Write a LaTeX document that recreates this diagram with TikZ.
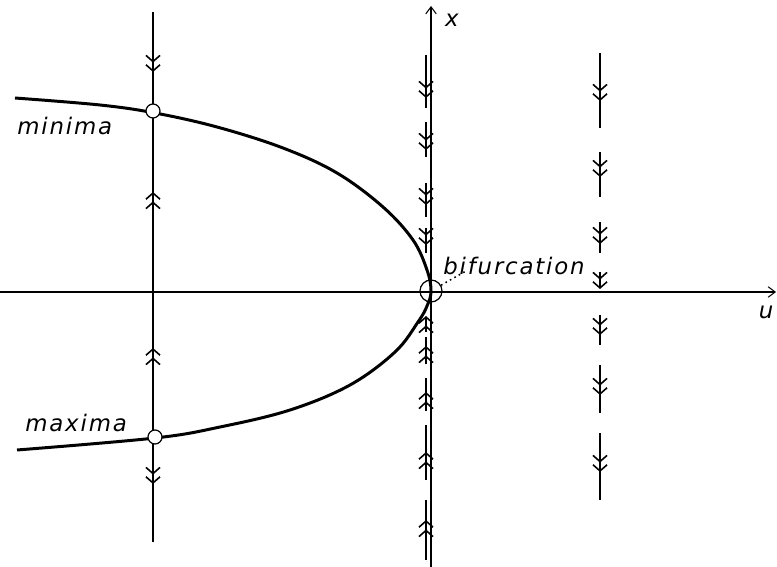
\documentclass[tikz,border=0pt]{standalone}
\usepackage{fontspec}
\usetikzlibrary{arrows.meta}
\newfontfamily\lblfont[LetterSpace=8]{DejaVu Sans}

\begin{document}
\begin{tikzpicture}[x=0.02cm,y=-0.02cm,
  axis/.style={line width=0.6pt},
  phase/.style={line width=0.8pt},
  dbl/.style={phase,-{Straight Barb[length=3.5pt,width=8pt,line width=0.9pt,sep=0.8pt]Straight Barb[length=3.5pt,width=8pt,line width=0.9pt]}},
  eq/.style={circle,draw,fill=white,line width=0.7pt,inner sep=0pt,minimum size=2.8mm},
  lbl/.style={font=\fontsize{13}{15}\lblfont\itshape,inner sep=0pt}]
\path[use as bounding box] (0,0) rectangle (777,567);
% axes
\coordinate (uL) at (0,292);
\coordinate (uR) at (776,292);
\coordinate (xB) at (431,567);
\coordinate (xT) at (431,6);
\draw[axis,-{Straight Barb[length=4pt,width=6pt]}] (uL) -- (uR);
\draw[axis,-{Straight Barb[length=4pt,width=6pt]}] (xB) -- (xT);
\node[lbl] (ulab) at (766,312) {u};
\node[lbl] (xlab) at (452,20) {x};
% phase line u<0
\coordinate (pT) at (153,12);
\coordinate (pB) at (153,542);
\draw[phase] (pT) -- (pB);
\draw[dbl] (153,52) -- (153,72);
\draw[dbl] (153,212) -- (153,192);
\draw[dbl] (153,368) -- (153,348);
\draw[dbl] (153,464) -- (153,484);
% equilibrium curve
\draw[line width=1.7pt] plot[smooth,tension=0.6] coordinates {(15,98) (100,105) (155,113) (217,127)
  (283,148) (337,173) (383,207) (413,240) (427,270) (431,291) (427,306) (418,322) (395,352)
  (350,385) (290,410) (220,427) (155,438) (17,450)};
\node[eq] (mn) at (153,111) {};
\node[eq] (mx) at (155,437) {};
\node[lbl,anchor=west] (mnlab) at (17,126) {minima};
\node[lbl,anchor=west] (mxlab) at (25,423) {maxima};
% phase line u=0
\draw[phase] (426,55) -- (426,108);
\draw[dbl] (426,78) -- (426,98);
\draw[phase] (426,122) -- (426,157);
\draw[dbl] (426,130) -- (426,150);
\draw[phase] (426,183) -- (426,217);
\draw[dbl] (426,185) -- (426,205);
\draw[phase] (426,237) -- (426,253);
\draw[dbl] (426,228) -- (426,245);
\draw[dbl] (426,332) -- (426,316);
\draw[phase] (426,337) -- (426,358);
\draw[dbl] (426,364) -- (426,346);
\draw[phase] (426,378) -- (426,407);
\draw[dbl] (426,411) -- (426,392);
\draw[phase] (426,425) -- (426,480);
\draw[dbl] (426,471) -- (426,452);
\draw[phase] (426,500) -- (426,560);
\draw[dbl] (426,539) -- (426,520);
% phase line u>0
\draw[phase] (600,53) -- (600,128);
\draw[dbl] (600,81) -- (600,101);
\draw[phase] (600,152) -- (600,197);
\draw[dbl] (600,157) -- (600,177);
\draw[phase] (600,222) -- (600,253);
\draw[dbl] (600,224) -- (600,244);
\draw[dbl] (600,272) -- (600,289);
\draw[phase] (600,317) -- (600,345);
\draw[dbl] (600,315) -- (600,335);
\draw[phase] (600,365) -- (600,413);
\draw[dbl] (600,375) -- (600,395);
\draw[phase] (600,433) -- (600,500);
\draw[dbl] (600,452) -- (600,472);
% bifurcation point
\node[circle,draw,line width=0.7pt,inner sep=0pt,minimum size=4.4mm] (bif) at (431,291) {};
\node[lbl,anchor=base west] (biflab) at (443,275) {bifurcation};
\coordinate (lead) at (466,271);
\draw[dotted,line width=0.9pt] (bif.30) -- (lead);
\end{tikzpicture}
\end{document}
